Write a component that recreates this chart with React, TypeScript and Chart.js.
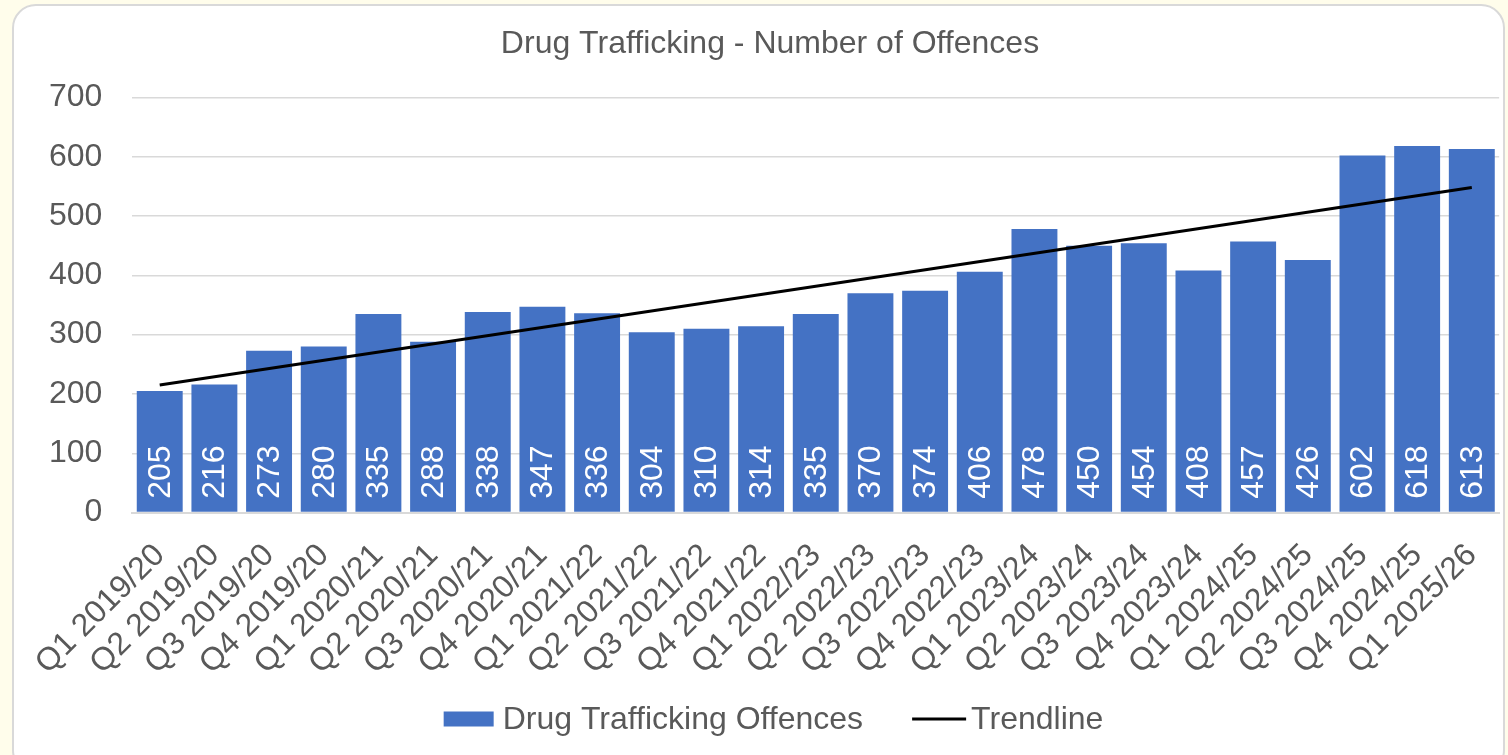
import React, { useEffect, useRef } from "react";
import { Chart, registerables } from "chart.js";

Chart.register(...registerables);

const categories = [
  "Q1 2019/20", "Q2 2019/20", "Q3 2019/20", "Q4 2019/20",
  "Q1 2020/21", "Q2 2020/21", "Q3 2020/21", "Q4 2020/21",
  "Q1 2021/22", "Q2 2021/22", "Q3 2021/22", "Q4 2021/22",
  "Q1 2022/23", "Q2 2022/23", "Q3 2022/23", "Q4 2022/23",
  "Q1 2023/24", "Q2 2023/24", "Q3 2023/24", "Q4 2023/24",
  "Q1 2024/25", "Q2 2024/25", "Q3 2024/25", "Q4 2024/25",
  "Q1 2025/26",
];

const offences = [
  205, 216, 273, 280, 335, 288, 338, 347, 336, 304, 310, 314, 335,
  370, 374, 406, 478, 450, 454, 408, 457, 426, 602, 618, 613,
];

// Trendline end values (first and last quarter)
const trendStart = 215;
const trendEnd = 548;
const trendline: (number | null)[] = categories.map((_, i) =>
  i === 0 ? trendStart : i === categories.length - 1 ? trendEnd : null
);

const yMin = 0;
const yMax = 700;
const yStep = 100;

const TITLE = "Drug Trafficking - Number of Offences";
const SERIES_BAR = "Drug Trafficking Offences";
const SERIES_LINE = "Trendline";

const FONT = '"Liberation Sans", Arial, sans-serif';
const TEXT = "#595959";
const GRID = "#D9D9D9";
const BLUE = "#4472C4";

const barLabels = {
  id: "barLabels",
  afterDatasetsDraw(chart: any) {
    const meta = chart.getDatasetMeta(0);
    const ctx = chart.ctx;
    ctx.save();
    ctx.fillStyle = "#FFFFFF";
    ctx.font = `32px ${FONT}`;
    ctx.textAlign = "left";
    ctx.textBaseline = "middle";
    meta.data.forEach((bar: any, i: number) => {
      const p = bar.getProps(["x", "base"], true);
      ctx.save();
      ctx.translate(p.x, p.base - 13);
      ctx.rotate(-Math.PI / 2);
      ctx.fillText(String(offences[i]), 0, 1);
      ctx.restore();
    });
    ctx.restore();
  },
};

// Legend drawn in the reserved bottom band (Excel-style spacing)
const bottomLegend = {
  id: "bottomLegend",
  afterDraw(chart: any) {
    const ctx = chart.ctx;
    const barDs = chart.data.datasets[0];
    const lineDs = chart.data.datasets[1];
    ctx.save();
    ctx.font = `32px ${FONT}`;
    const t1 = ctx.measureText(barDs.label).width;
    const t2 = ctx.measureText(lineDs.label).width;
    const boxW = 50, boxH = 15, lineW = 54;
    const gap1 = 9, gapItem = 49, gap2 = 5;
    const total = boxW + gap1 + t1 + gapItem + lineW + gap2 + t2;
    let x = chart.width / 2 + 6 - total / 2;
    const y = chart.height - 36;
    ctx.fillStyle = barDs.backgroundColor;
    ctx.fillRect(x, y - boxH / 2, boxW, boxH);
    x += boxW + gap1;
    ctx.fillStyle = TEXT;
    ctx.textAlign = "left";
    ctx.textBaseline = "middle";
    ctx.fillText(barDs.label, x, y + 1);
    x += t1 + gapItem;
    ctx.strokeStyle = lineDs.borderColor;
    ctx.lineWidth = 3;
    ctx.beginPath();
    ctx.moveTo(x, y);
    ctx.lineTo(x + lineW, y);
    ctx.stroke();
    x += lineW + gap2;
    ctx.fillText(lineDs.label, x, y + 1);
    ctx.restore();
  },
};

export default function App() {
  const canvasRef = useRef<HTMLCanvasElement | null>(null);

  useEffect(() => {
    document.body.style.margin = "0";
    document.body.style.background = "#FFFDEB";
    const canvas = canvasRef.current;
    if (!canvas) return;
    const chart = new Chart(canvas, {
      type: "bar",
      data: {
        labels: categories,
        datasets: [
          {
            type: "bar",
            label: SERIES_BAR,
            data: offences,
            backgroundColor: BLUE,
            borderWidth: 0,
            barPercentage: 0.84,
            categoryPercentage: 1,
            order: 1,
          },
          {
            type: "line",
            label: SERIES_LINE,
            data: trendline,
            borderColor: "#000000",
            backgroundColor: "#000000",
            borderWidth: 3,
            pointRadius: 0,
            spanGaps: true,
            order: 0,
          } as any,
        ],
      },
      options: {
        responsive: false,
        animation: false,
        layout: { padding: { left: 7, right: 2, top: 9, bottom: 49 } },
        plugins: {
          tooltip: { enabled: false },
          legend: { display: false },
          title: {
            display: true,
            text: TITLE,
            color: TEXT,
            font: { family: FONT, size: 32, weight: "normal" },
            padding: { top: 10, bottom: 34 },
          },
        },
        scales: {
          x: {
            grid: { display: false, drawTicks: false },
            border: { display: true, color: GRID, width: 2 },
            ticks: {
              color: TEXT,
              font: { family: FONT, size: 32 },
              maxRotation: 45,
              minRotation: 45,
              autoSkip: false,
              padding: 24,
            },
          },
          y: {
            min: yMin,
            max: yMax,
            grid: { color: GRID, lineWidth: 1.5, drawTicks: false },
            border: { display: false },
            ticks: {
              stepSize: yStep,
              color: TEXT,
              font: { family: FONT, size: 32 },
              padding: 30,
            },
          },
        },
      },
      plugins: [barLabels, bottomLegend],
    });
    return () => chart.destroy();
  }, []);

  return (
    <div
      style={{
        position: "relative",
        width: 1508,
        height: 755,
        overflow: "hidden",
        background: "#FFFDEB",
      }}
    >
      <div
        style={{
          position: "absolute",
          left: 12,
          top: 4,
          width: 1493,
          height: 770,
          boxSizing: "border-box",
          border: "2px solid #D9D9D9",
          borderRadius: 24,
          background: "#FFFFFF",
        }}
      />
      <canvas
        ref={canvasRef}
        width={1511}
        height={749}
        style={{ position: "absolute", left: 12, top: 6, width: 1511, height: 749 }}
      />
    </div>
  );
}
